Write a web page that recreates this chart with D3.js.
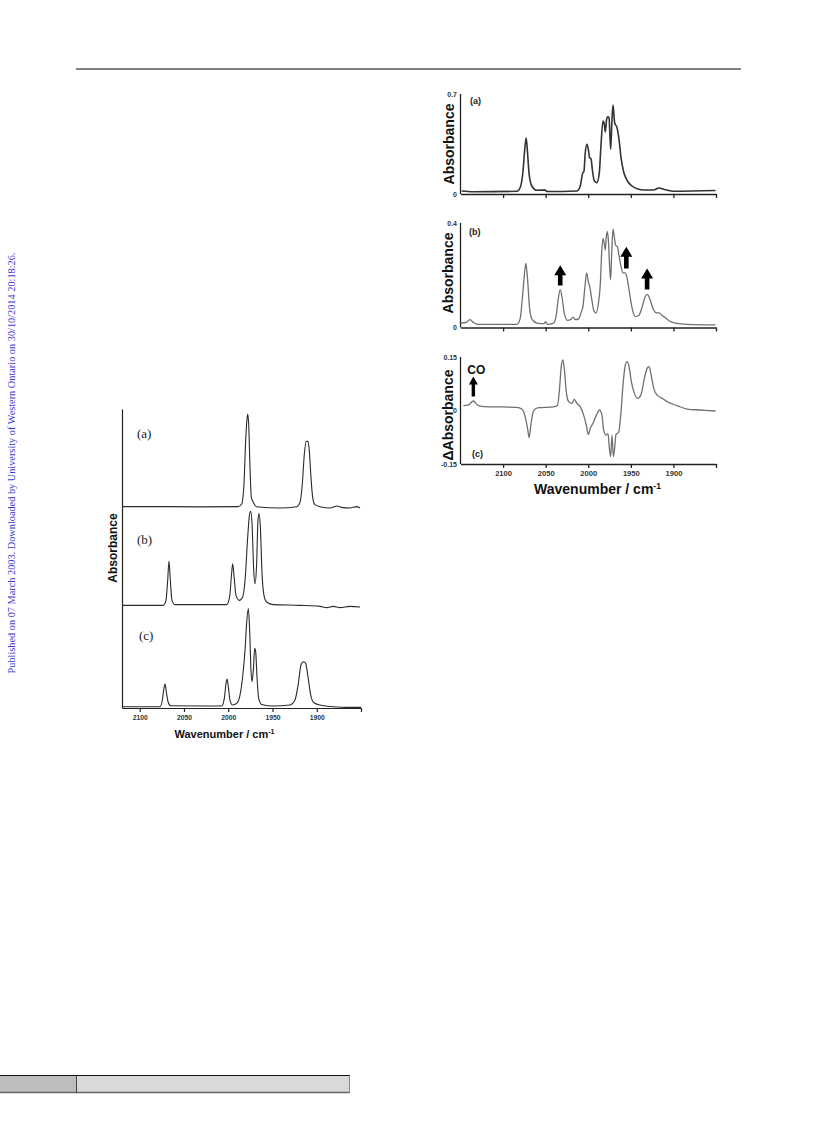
<!DOCTYPE html>
<html><head><meta charset="utf-8">
<script src="https://cdn.jsdelivr.net/npm/d3@7"></script>
<style>body{margin:0;background:#fff}svg{display:block}</style>
</head><body>
<svg id="c" width="816" height="1145"></svg>
<script>
// ---------------- DATA ----------------
const xTickValues = [2100, 2050, 2000, 1950, 1900, 1850];
const xTickLabels = ["2100", "2050", "2000", "1950", "1900", ""];
const yTicksA = [0, 0.7];
const yTicksB = [0, 0.4];
const yTicksC = [-0.15, 0, 0.15];

// right figure, trace (a): [wavenumber, absorbance]
const rightA = [[2148.6,0.021],[2134.9,0.016],[2083.9,0.019],[2080,0.044],[2076.8,0.149],[2074.9,0.289],[2072.9,0.394],[2071.3,0.289],[2069.4,0.138],[2066.2,0.056],[2060.3,0.026],[2050.5,0.028],[2048.6,0.017],[2013.3,0.021],[2009.4,0.056],[2006.6,0.145],[2005,0.161],[2003.5,0.289],[2001.5,0.348],[1999.6,0.301],[1998.4,0.254],[1996.8,0.247],[1995.2,0.173],[1992.9,0.091],[1989.8,0.079],[1987,0.149],[1985.1,0.336],[1982.7,0.511],[1981.1,0.488],[1980,0.434],[1978.4,0.523],[1977.2,0.541],[1975.6,0.534],[1973.7,0.313],[1972.1,0.523],[1970.9,0.623],[1969,0.499],[1966.2,0.464],[1963.9,0.383],[1961.5,0.254],[1958.4,0.154],[1954.5,0.096],[1948.6,0.056],[1940.7,0.033],[1934.9,0.028],[1923.1,0.028],[1917.2,0.042],[1909.4,0.030],[1899.6,0.019],[1850.5,0.024]];

// right figure, trace (b)
const rightB = [[2149.8,0.017],[2142.7,0.021],[2138.8,0.030],[2134.9,0.019],[2129,0.012],[2083.9,0.012],[2080,0.033],[2077.6,0.104],[2075.2,0.194],[2073.3,0.245],[2071.3,0.187],[2069,0.078],[2065.8,0.03],[2060.3,0.017],[2051.7,0.015],[2050.1,0.022],[2047.8,0.012],[2040.7,0.017],[2037.6,0.046],[2035.2,0.11],[2032.9,0.145],[2030.5,0.11],[2028.2,0.055],[2024.3,0.027],[2020.3,0.031],[2018,0.04],[2015.2,0.03],[2011.3,0.033],[2008.2,0.059],[2006.2,0.081],[2004.3,0.142],[2001.9,0.209],[1999.9,0.174],[1998,0.153],[1996,0.11],[1993.7,0.068],[1990.9,0.055],[1988.2,0.091],[1985.8,0.168],[1984.3,0.283],[1982.7,0.341],[1981.5,0.328],[1980,0.296],[1978.8,0.347],[1977.6,0.367],[1976.4,0.335],[1974.9,0.232],[1973.7,0.183],[1972.5,0.283],[1970.9,0.376],[1969.4,0.347],[1967.8,0.315],[1965.8,0.309],[1963.9,0.277],[1961.5,0.232],[1959.2,0.209],[1956.8,0.209],[1954.5,0.191],[1951.7,0.136],[1948.6,0.076],[1944.7,0.042],[1940.7,0.046],[1936.8,0.078],[1933.3,0.117],[1930.5,0.127],[1927.8,0.11],[1923.9,0.072],[1920,0.056],[1916.8,0.056],[1913.3,0.046],[1909.4,0.037],[1904.3,0.024],[1897.6,0.017],[1883.9,0.012],[1850.5,0.01]];

// right figure, trace (c): difference spectrum
const rightC = [[2146.6,0.0136],[2140.7,0.0155],[2134.9,0.0266],[2130.1,0.0155],[2123.1,0.011],[2083.9,0.009],[2078,0.004],[2074.1,-0.017],[2071.3,-0.05],[2069.4,-0.076],[2067.4,-0.041],[2064.3,-0.001],[2058.4,0.008],[2040.7,0.01],[2036.1,0.015],[2033.7,0.062],[2031.7,0.123],[2029.8,0.142],[2027.8,0.109],[2025.8,0.053],[2023.1,0.025],[2019.2,0.020],[2016.4,0.031],[2013.3,0.020],[2009.4,0.011],[2005.4,-0.013],[2002.3,-0.041],[1999.9,-0.067],[1997.6,-0.050],[1994.5,-0.036],[1990.5,-0.013],[1986.6,0.0014],[1983.9,-0.013],[1981.9,-0.055],[1979.2,-0.069],[1976.8,-0.065],[1975.2,-0.106],[1973.7,-0.129],[1972.1,-0.069],[1970.5,-0.129],[1969,-0.106],[1967.4,-0.067],[1964.3,-0.061],[1961.5,-0.003],[1959.2,0.072],[1956.8,0.123],[1954.5,0.137],[1952.1,0.123],[1949.4,0.081],[1945.8,0.048],[1941.9,0.034],[1938,0.045],[1934.1,0.090],[1930.9,0.118],[1928.6,0.123],[1926.2,0.100],[1923.1,0.062],[1919.2,0.043],[1914.4,0.036],[1907.4,0.025],[1895.6,0.0136],[1883.9,0.004],[1868.1,0.0014],[1850.5,-0.0014]];

// arrows on right (b) and CO arrow on right (c): wavenumber, tip value, base value
const arrowsB = [[2032.9,0.238,0.161],[1955.3,0.309,0.226],[1930.9,0.226,0.145]];
const arrowCO = [[2134.9,0.095,0.039]];

// left figure: three stacked spectra (relative absorbance), with offsets
const leftOffsets = [2.02, 1.03, 0.013];
const leftA = [[2119.6,0],[2069.5,0],[2031.9,-0.002],[1988.6,0],[1984.8,0.027],[1982.2,0.227],[1980.3,0.66],[1978.8,0.88],[1978,0.93],[1976.9,0.83],[1975.4,0.395],[1973.9,0.094],[1971.6,0.043],[1967.9,0],[1941.5,-0.013],[1922.7,0],[1918.9,0.043],[1916.3,0.227],[1914,0.528],[1911.8,0.655],[1909.9,0.655],[1908.4,0.562],[1906.5,0.294],[1904.6,0.094],[1902,0.02],[1896.3,0],[1885,-0.013],[1876.7,0.007],[1871.8,-0.007],[1862.4,-0.013],[1854.9,0],[1851.1,-0.013]];
const leftB = [[2119.6,0],[2073.3,0],[2070.3,0.05],[2068.4,0.251],[2066.9,0.445],[2065.4,0.251],[2063.5,0.05],[2060.1,0.007],[2001.8,0.007],[1998.4,0.084],[1996.5,0.284],[1995,0.418],[1993.5,0.301],[1991.2,0.1],[1987.4,0.05],[1983.7,0.084],[1980.7,0.284],[1978,0.685],[1975.8,0.92],[1974.6,0.943],[1973.1,0.819],[1971.2,0.351],[1969.7,0.217],[1967.9,0.418],[1966.4,0.853],[1965.2,0.92],[1963.7,0.786],[1961.8,0.318],[1959.6,0.1],[1956.6,0.033],[1949.1,0.007],[1918.9,0],[1896.3,-0.01],[1888.8,-0.023],[1881.2,-0.01],[1873.7,-0.023],[1862.4,-0.01],[1851.1,-0.017]];
const leftC = [[2119.6,0],[2077.1,0],[2074.4,0.067],[2072.9,0.167],[2071.4,0.227],[2069.9,0.15],[2068,0.05],[2065,0.01],[2007.4,0.007],[2004.4,0.084],[2002.5,0.234],[2001.4,0.278],[1999.9,0.201],[1998,0.067],[1995,0.017],[1990.5,0.033],[1986.7,0.117],[1983.7,0.301],[1981,0.569],[1979.2,0.836],[1977.3,0.985],[1975.8,0.769],[1974.3,0.368],[1973.1,0.251],[1971.6,0.368],[1970.1,0.585],[1969,0.552],[1967.5,0.301],[1965.6,0.084],[1962.2,0.023],[1949,0.007],[1930.2,0.017],[1924.6,0.067],[1920.8,0.234],[1917.8,0.418],[1915.1,0.451],[1912.5,0.435],[1909.9,0.301],[1906.8,0.117],[1903.1,0.04],[1896.3,0.017],[1881.2,0],[1866.2,-0.007],[1850,-0.007]];
const leftPanelLabels = ["(a)", "(b)", "(c)"];
const rightPanelLabels = ["(a)", "(b)", "(c)"];
const sideText = "Published on 07 March 2003. Downloaded by University of Western Ontario on 30/10/2014 20:18:26.";

// ---------------- DRAW ----------------
const svg = d3.select("#c");
const SANS = "'Liberation Sans', Arial, sans-serif";
const SERIF = "'Liberation Serif', 'Times New Roman', serif";

// header rule
svg.append("line").attr("x1", 76).attr("x2", 741).attr("y1", 69).attr("y2", 69)
  .attr("stroke", "#808080").attr("stroke-width", 2);

// side watermark
svg.append("text").attr("transform", "translate(15,463) rotate(-90)")
  .attr("text-anchor", "middle").attr("font-family", SERIF).attr("font-size", 10.3)
  .attr("fill", "#3a3ad0").text(sideText);

// bottom bar
const bar = svg.append("g");
bar.append("rect").attr("x", 0).attr("y", 1076).attr("width", 76.5).attr("height", 16.5).attr("fill", "#bdbdbd");
bar.append("rect").attr("x", 76.5).attr("y", 1076).attr("width", 273).attr("height", 16.5).attr("fill", "#d9d9d9");
bar.append("line").attr("x1", 0).attr("x2", 350).attr("y1", 1075.5).attr("y2", 1075.5).attr("stroke", "#111").attr("stroke-width", 1);
bar.append("line").attr("x1", 0).attr("x2", 350).attr("y1", 1092.5).attr("y2", 1092.5).attr("stroke", "#666").attr("stroke-width", 1.5);
bar.append("line").attr("x1", 76.5).attr("x2", 76.5).attr("y1", 1075.5).attr("y2", 1093).attr("stroke", "#444").attr("stroke-width", 1);
bar.append("line").attr("x1", 349.5).attr("x2", 349.5).attr("y1", 1075.5).attr("y2", 1093).attr("stroke", "#888").attr("stroke-width", 1);

function styleAxis(g, color, width, fontSize) {
  g.select(".domain").attr("stroke", color).attr("stroke-width", width);
  g.selectAll(".tick line").attr("stroke", color).attr("stroke-width", width);
  g.selectAll(".tick text").attr("font-family", SANS).attr("font-weight", "bold")
    .attr("font-size", fontSize).attr("fill", "#333");
}

// ---------- right figure ----------
const xR = d3.scaleLinear().domain([2150, 1850]).range([460.5, 716]);
const panelsR = [
  {data: rightA, ticks: yTicksA, dom: [0, 0.7], rng: [194, 94], color: "#333", w: 1.6, label: rightPanelLabels[0], lx: 470, ly: 103.5, ylab: "Absorbance", yx: 454, yy: 144, showX: false},
  {data: rightB, ticks: yTicksB, dom: [0, 0.4], rng: [327.5, 223], color: "#707070", w: 1.3, label: rightPanelLabels[1], lx: 469, ly: 235, ylab: "Absorbance", yx: 452.5, yy: 273, showX: false},
  {data: rightC, ticks: yTicksC, dom: [-0.15, 0.15], rng: [464, 357], color: "#707070", w: 1.3, label: rightPanelLabels[2], lx: 472, ly: 457, ylab: "\u0394Absorbance", yx: 453, yy: 415, showX: true}
];
panelsR.forEach(p => {
  const y = d3.scaleLinear().domain(p.dom).range(p.rng);
  p.y = y;
  const gx = svg.append("g").attr("transform", `translate(0,${p.rng[0]})`)
    .call(d3.axisBottom(xR).tickValues(xTickValues).tickSize(4).tickSizeOuter(0).tickPadding(3)
      .tickFormat((d, i) => p.showX ? xTickLabels[i] : ""));
  styleAxis(gx, "#222", 1.3, 7.6);
  const gy = svg.append("g").attr("transform", `translate(${xR.range()[0]},0)`)
    .call(d3.axisLeft(y).tickValues(p.ticks).tickSize(0).tickSizeOuter(0).tickPadding(3.5)
      .tickFormat(d => d === 0 ? "0" : String(d)));
  gy.select(".domain").attr("d", `M0,${p.rng[0]}V${p.rng[1]}`);
  styleAxis(gy, "#222", 1.3, 7);
  svg.append("path").datum(p.data)
    .attr("fill", "none").attr("stroke", p.color).attr("stroke-width", p.w).attr("stroke-linejoin", "round")
    .attr("d", d3.line().x(d => xR(d[0])).y(d => y(d[1])).curve(d3.curveMonotoneX));
  svg.append("text").attr("x", p.lx).attr("y", p.ly).attr("font-family", SANS).attr("font-weight", "bold")
    .attr("font-size", 9).attr("fill", "#222").text(p.label);
  svg.append("text").attr("transform", `translate(${p.yx},${p.yy}) rotate(-90)`).attr("text-anchor", "middle")
    .attr("font-family", SANS).attr("font-weight", "bold").attr("font-size", 14).attr("fill", "#111").text(p.ylab);
});

function arrowPath(x, yTip, yBase, hw, hh, sw) {
  return `M${x},${yTip} L${x + hw},${yTip + hh} L${x + sw},${yTip + hh} L${x + sw},${yBase} L${x - sw},${yBase} L${x - sw},${yTip + hh} L${x - hw},${yTip + hh} Z`;
}
svg.selectAll(".arrB").data(arrowsB).enter().append("path")
  .attr("fill", "#000")
  .attr("d", d => arrowPath(xR(d[0]), panelsR[1].y(d[1]), panelsR[1].y(d[2]), 6, 10, 2.3));
svg.selectAll(".arrCO").data(arrowCO).enter().append("path")
  .attr("fill", "#000")
  .attr("d", d => arrowPath(xR(d[0]), panelsR[2].y(d[1]), panelsR[2].y(d[2]), 4.5, 8, 1.7));
svg.selectAll(".coLab").data(arrowCO).enter().append("text")
  .attr("x", d => xR(d[0]) + 3).attr("y", d => panelsR[2].y(d[1]) - 3)
  .attr("text-anchor", "middle").attr("font-family", SANS).attr("font-weight", "bold").attr("font-size", 12)
  .attr("fill", "#111").text("CO");

const xlabR = svg.append("text").attr("x", 597.5).attr("y", 494).attr("text-anchor", "middle")
  .attr("font-family", SANS).attr("font-weight", "bold").attr("font-size", 14).attr("fill", "#111");
xlabR.append("tspan").text("Wavenumber / cm");
xlabR.append("tspan").attr("font-size", 8.5).attr("dy", -5.5).text("-1");

// ---------- left figure ----------
const xL = d3.scaleLinear().domain([2120, 1850]).range([122, 361]);
const yL = d3.scaleLinear().domain([0, 3]).range([708, 409]);
const gxL = svg.append("g").attr("transform", "translate(0,708)")
  .call(d3.axisBottom(xL).tickValues(xTickValues).tickSize(4).tickSizeOuter(0).tickPadding(3)
    .tickFormat((d, i) => xTickLabels[i]));
styleAxis(gxL, "#222", 1.2, 6.8);
const gyL = svg.append("g").attr("transform", "translate(122,0)")
  .call(d3.axisLeft(yL).tickValues([]).tickSizeOuter(0));
styleAxis(gyL, "#222", 1.2, 7);

const leftSeries = [leftA, leftB, leftC];
const leftLabelPos = [[137, 438], [137, 544], [139, 640]];
leftSeries.forEach((s, i) => {
  svg.append("path").datum(s)
    .attr("fill", "none").attr("stroke", "#2a2a2a").attr("stroke-width", 1.1).attr("stroke-linejoin", "round")
    .attr("d", d3.line().x(d => xL(d[0])).y(d => yL(d[1] + leftOffsets[i])).curve(d3.curveMonotoneX));
  svg.append("text").attr("x", leftLabelPos[i][0]).attr("y", leftLabelPos[i][1])
    .attr("font-family", SERIF).attr("font-size", 13).attr("fill", "#222").text(leftPanelLabels[i]);
});
svg.append("text").attr("transform", "translate(116.5,548) rotate(-90)").attr("text-anchor", "middle")
  .attr("font-family", SANS).attr("font-weight", "bold").attr("font-size", 12).attr("fill", "#111").text("Absorbance");
const xlabL = svg.append("text").attr("x", 224.5).attr("y", 738).attr("text-anchor", "middle")
  .attr("font-family", SANS).attr("font-weight", "bold").attr("font-size", 11).attr("fill", "#111");
xlabL.append("tspan").text("Wavenumber / cm");
xlabL.append("tspan").attr("font-size", 7).attr("dy", -4.5).text("-1");
</script>
</body></html>
